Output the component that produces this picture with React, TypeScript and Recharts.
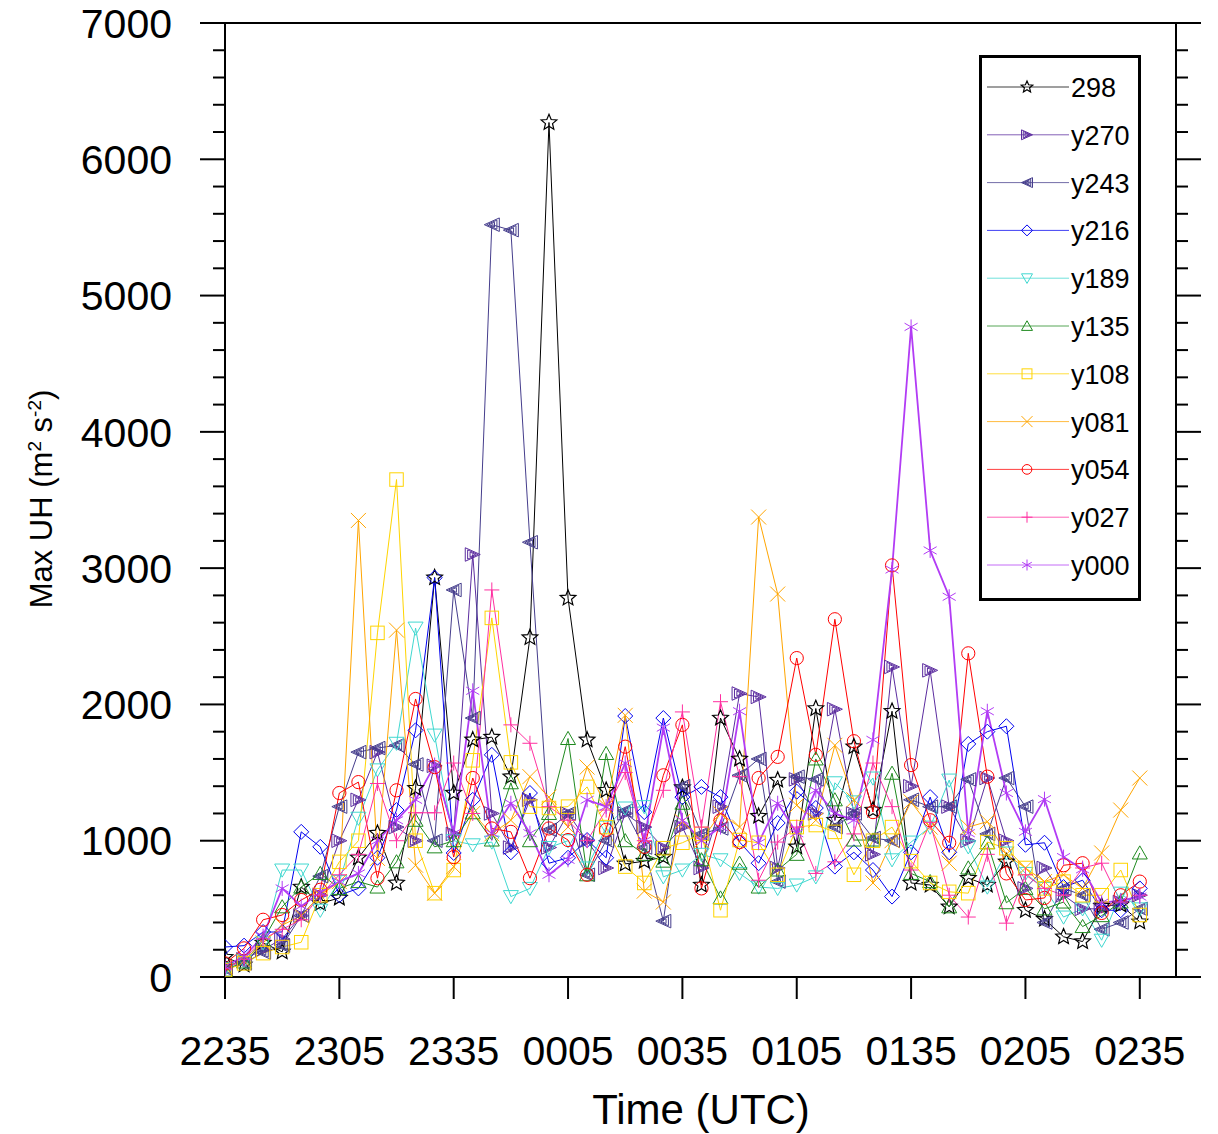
import React from "react";
import { LineChart, Line, XAxis, YAxis, ReferenceArea, Legend } from "recharts";

// 5-minute output steps from 2235 to 0235 UTC
const steps = Array.from({ length: 49 }, (_, i) => i);
const timeTicks = [0, 6, 12, 18, 24, 30, 36, 42, 48];
const timeLabels = ["2235", "2305", "2335", "0005", "0035", "0105", "0135", "0205", "0235"];
const yMajor = [0, 1000, 2000, 3000, 4000, 5000, 6000, 7000];
const yMinorStep = 200;

const s298 = [145, 90, 250, 185, 660, 540, 580, 875, 1055, 690, 1385, 2930, 1350, 1740, 1760, 1470, 2490, 6270, 2780, 1740, 1370, 830, 850, 880, 1390, 675, 1900, 1600, 1180, 1445, 955, 1970, 1150, 1690, 1225, 1950, 690, 675, 515, 725, 675, 845, 490, 425, 295, 260, 520, 530, 405];
const y270 = [70, 130, 200, 280, 450, 600, 1000, 1300, 1650, 1100, 1000, 1550, 1050, 3100, 1200, 950, 1300, 950, 1200, 1000, 800, 1200, 1100, 950, 1100, 800, 1250, 2080, 2055, 800, 1450, 1200, 1965, 1200, 900, 2275, 1400, 2250, 1250, 1000, 1460, 1000, 650, 800, 600, 500, 500, 550, 600];
const y243 = [60, 100, 180, 230, 450, 740, 1250, 1650, 1680, 1700, 1560, 1000, 2840, 1900, 5520, 5480, 3190, 1080, 1200, 750, 1000, 1220, 950, 410, 1400, 1050, 1090, 1480, 1600, 700, 1470, 1450, 1100, 1200, 1020, 1000, 1300, 1250, 1250, 1450, 1050, 1460, 1250, 400, 650, 600, 350, 400, 500];
const y216 = [220, 230, 330, 330, 1065, 955, 600, 650, 875, 1225, 1810, 2930, 910, 1300, 1630, 915, 1350, 835, 875, 1005, 875, 1915, 1210, 1900, 1320, 1395, 1320, 990, 835, 1130, 1360, 1240, 810, 915, 785, 590, 915, 1320, 915, 1710, 1800, 1840, 970, 985, 660, 710, 490, 490, 650];
const y189 = [60, 120, 250, 785, 785, 490, 700, 1165, 1520, 1715, 2560, 1775, 1000, 970, 990, 590, 650, 950, 1000, 800, 1100, 1240, 1250, 735, 785, 900, 860, 760, 660, 650, 675, 735, 1425, 1285, 1460, 860, 990, 1100, 1445, 955, 660, 910, 760, 650, 440, 500, 270, 615, 500];
const y135 = [50, 110, 270, 515, 660, 760, 650, 700, 660, 845, 1150, 955, 1000, 1205, 1005, 1425, 1000, 1200, 1750, 750, 1640, 1000, 900, 850, 1275, 860, 580, 835, 660, 785, 900, 1600, 1300, 1005, 1005, 1495, 760, 700, 515, 800, 985, 545, 650, 500, 550, 370, 450, 550, 910];
const y108 = [50, 100, 175, 220, 255, 600, 845, 1000, 2525, 3650, 1000, 615, 785, 1590, 2635, 1575, 1250, 1240, 1250, 1395, 1100, 810, 690, 945, 985, 1050, 490, 1005, 985, 750, 1100, 1115, 1065, 750, 1000, 1100, 850, 690, 625, 615, 990, 945, 800, 650, 700, 600, 600, 785, 455];
const y081 = [70, 120, 250, 380, 450, 600, 700, 3350, 870, 2545, 820, 615, 810, 1200, 1050, 1150, 1470, 1320, 1100, 1540, 1250, 1920, 630, 550, 1140, 1000, 1200, 1100, 3375, 2810, 1260, 1150, 1700, 1300, 690, 1000, 1285, 1100, 835, 1100, 1140, 900, 800, 700, 750, 650, 910, 1225, 1460];
const y054 = [100, 210, 420, 455, 565, 640, 1350, 1430, 725, 1370, 2040, 1540, 880, 1460, 1090, 1065, 725, 1090, 1005, 750, 1080, 1690, 955, 1480, 1850, 650, 1150, 990, 1460, 1615, 2340, 1630, 2625, 1730, 1210, 3020, 1555, 1150, 985, 2375, 1470, 760, 565, 580, 820, 835, 470, 600, 700];
const y027 = [60, 130, 280, 350, 420, 600, 750, 900, 1420, 1000, 1205, 1205, 1570, 1200, 2840, 1850, 1715, 1250, 1150, 1000, 1225, 1500, 1000, 1370, 1945, 1100, 2020, 1470, 710, 990, 1100, 760, 845, 1050, 1570, 1250, 785, 1135, 600, 440, 900, 395, 750, 650, 600, 800, 835, 550, 600];
const y000 = [80, 150, 300, 650, 520, 620, 700, 760, 1000, 1150, 1300, 1555, 1055, 2100, 1055, 1275, 1055, 750, 860, 1300, 1250, 1570, 1000, 1830, 1150, 1000, 1100, 1950, 985, 1275, 1055, 1370, 1200, 1150, 1740, 2990, 4770, 3130, 2790, 1055, 1950, 1350, 1065, 1305, 880, 790, 545, 560, 590];

const series = [
  { key: "s298", name: "298", values: s298, color: "#000000", shape: "star", width: 1 },
  { key: "y270", name: "y270", values: y270, color: "#5b2c9f", shape: "triR", width: 1 },
  { key: "y243", name: "y243", values: y243, color: "#453d8c", shape: "triL", width: 1 },
  { key: "y216", name: "y216", values: y216, color: "#0000f0", shape: "diamond", width: 1 },
  { key: "y189", name: "y189", values: y189, color: "#40d8d0", shape: "triDown", width: 1 },
  { key: "y135", name: "y135", values: y135, color: "#1f8a1f", shape: "triUp", width: 1 },
  { key: "y108", name: "y108", values: y108, color: "#ffd400", shape: "square", width: 1 },
  { key: "y081", name: "y081", values: y081, color: "#ffa500", shape: "x", width: 1 },
  { key: "y054", name: "y054", values: y054, color: "#ff0000", shape: "circle", width: 1 },
  { key: "y027", name: "y027", values: y027, color: "#ff2fa0", shape: "plus", width: 1 },
  { key: "y000", name: "y000", values: y000, color: "#b23cf5", shape: "asterisk", width: 1.8 },
];

const data = steps.map((i) => {
  const row: Record<string, number> = { i };
  series.forEach((s) => (row[s.key] = s.values[i]));
  return row;
});

const FONT = "'Liberation Sans', Arial, Helvetica, sans-serif";
const PLOT_L = 225, PLOT_R = 1176, PLOT_B = 977;

function pts(list: number[][]) {
  return list.map((p) => p.join(",")).join(" ");
}

function Marker({ shape, color, cx, cy, s = 7.5 }: { shape: string; color: string; cx: number; cy: number; s?: number }) {
  const common = { fill: "none", stroke: color, strokeWidth: 1 };
  switch (shape) {
    case "star": {
      const p: number[][] = [];
      const R = s * 1.1;
      for (let k = 0; k < 10; k++) {
        const r = k % 2 === 0 ? R : R * 0.45;
        const a = -Math.PI / 2 + (k * Math.PI) / 5;
        p.push([cx + r * Math.cos(a), cy + r * Math.sin(a)]);
      }
      return <polygon points={pts(p)} {...common} strokeWidth={1.2} />;
    }
    case "triR":
    case "triL": {
      const d = shape === "triR" ? 1 : -1;
      return (
        <g>
          {[1, 0.68, 0.36].map((f) => (
            <polygon
              key={f}
              points={pts([
                [cx - d * s * f, cy - s * 0.9 * f],
                [cx + d * s * f, cy],
                [cx - d * s * f, cy + s * 0.9 * f],
              ])}
              {...common}
            />
          ))}
        </g>
      );
    }
    case "diamond":
      return <polygon points={pts([[cx, cy - s], [cx + s, cy], [cx, cy + s], [cx - s, cy]])} {...common} />;
    case "triDown":
      return <polygon points={pts([[cx - s, cy - s * 0.8], [cx + s, cy - s * 0.8], [cx, cy + s * 0.95]])} {...common} />;
    case "triUp":
      return <polygon points={pts([[cx - s, cy + s * 0.8], [cx + s, cy + s * 0.8], [cx, cy - s * 0.95]])} {...common} />;
    case "square":
      return <rect x={cx - s * 0.9} y={cy - s * 0.9} width={s * 1.8} height={s * 1.8} {...common} />;
    case "circle":
      return <circle cx={cx} cy={cy} r={s * 0.88} {...common} />;
    case "x":
      return (
        <g {...common}>
          <line x1={cx - s} y1={cy - s} x2={cx + s} y2={cy + s} />
          <line x1={cx - s} y1={cy + s} x2={cx + s} y2={cy - s} />
        </g>
      );
    case "plus":
      return (
        <g {...common}>
          <line x1={cx - s} y1={cy} x2={cx + s} y2={cy} />
          <line x1={cx} y1={cy - s} x2={cx} y2={cy + s} />
        </g>
      );
    case "asterisk":
      return (
        <g {...common}>
          <line x1={cx} y1={cy - s} x2={cx} y2={cy + s} />
          <line x1={cx - s * 0.87} y1={cy - s * 0.5} x2={cx + s * 0.87} y2={cy + s * 0.5} />
          <line x1={cx - s * 0.87} y1={cy + s * 0.5} x2={cx + s * 0.87} y2={cy - s * 0.5} />
        </g>
      );
    default:
      return null;
  }
}

function makeDot(shape: string, color: string) {
  return (props: any) => {
    const { cx, cy, index } = props;
    if (cx == null || cy == null) return <g key={index} />;
    return <Marker key={index} shape={shape} color={color} cx={cx} cy={cy} />;
  };
}

function YTick(props: any) {
  const { y, payload } = props;
  const major = yMajor.includes(payload.value);
  const len = major ? 25 : 12;
  return (
    <g>
      <line x1={PLOT_L - len} x2={PLOT_L} y1={y} y2={y} stroke="#000" strokeWidth={2} />
      <line x1={PLOT_R} x2={PLOT_R + len} y1={y} y2={y} stroke="#000" strokeWidth={2} />
      {major && (
        <text x={172} y={y} dy="0.36em" textAnchor="end" fontSize={41} fontFamily={FONT} fill="#000">
          {payload.value}
        </text>
      )}
    </g>
  );
}

function XTick(props: any) {
  const { x, payload } = props;
  const label = timeLabels[timeTicks.indexOf(payload.value)];
  return (
    <g>
      <line x1={x} x2={x} y1={PLOT_B} y2={PLOT_B + 22} stroke="#000" strokeWidth={2} />
      <text x={x} y={1065} textAnchor="middle" fontSize={41} fontFamily={FONT} fill="#000">
        {label}
      </text>
    </g>
  );
}

function XTitle() {
  return (
    <text x={701} y={1124} textAnchor="middle" fontSize={42} fontFamily={FONT} fill="#000">
      Time (UTC)
    </text>
  );
}

function YTitle() {
  return (
    <text x={52} y={499} transform="rotate(-90 52 499)" textAnchor="middle" fontSize={31} fontFamily={FONT} fill="#000">
      Max UH (m<tspan dy={-11} fontSize={19}>2</tspan>
      <tspan dy={11}> s</tspan>
      <tspan dy={-11} fontSize={19}>-2</tspan>
      <tspan dy={11}>)</tspan>
    </text>
  );
}

function LegendBox() {
  const rowH = 47.8;
  return (
    <svg width={162} height={546} style={{ display: "block" }}>
      <rect x={1.5} y={1.5} width={159} height={543} fill="#fff" stroke="#000" strokeWidth={3} />
      {series.map((s, k) => {
        const cy = 32 + k * rowH;
        return (
          <g key={s.key}>
            <line x1={8} x2={90} y1={cy} y2={cy} stroke={s.color} strokeWidth={1} opacity={0.75} />
            <Marker shape={s.shape} color={s.color} cx={48} cy={cy} s={5.5} />
            <text x={92} y={cy + 10} fontSize={27} fontFamily={FONT} fill="#000">
              {s.name}
            </text>
          </g>
        );
      })}
    </svg>
  );
}

export default function App() {
  return (
    <div style={{ position: "fixed", left: 0, top: 0, width: 1218, height: 1134, background: "#fff" }}>
      <LineChart width={1218} height={1134} data={data} margin={{ top: 23, right: 42, bottom: 17, left: 75 }}>
        <XAxis
          dataKey="i"
          type="number"
          domain={[0, 49.9]}
          allowDataOverflow
          ticks={timeTicks}
          interval={0}
          height={140}
          axisLine={false}
          tickLine={false}
          tick={<XTick />}
          label={<XTitle />}
        />
        <YAxis
          type="number"
          domain={[0, 7000]}
          allowDataOverflow
          ticks={Array.from({ length: 7000 / yMinorStep + 1 }, (_, k) => k * yMinorStep)}
          interval={0}
          width={150}
          axisLine={false}
          tickLine={false}
          tick={<YTick />}
          label={<YTitle />}
        />
        {series.map((s) => (
          <Line
            key={s.key}
            dataKey={s.key}
            name={s.name}
            type="linear"
            stroke={s.color}
            strokeWidth={s.width}
            dot={makeDot(s.shape, s.color)}
            activeDot={false}
            isAnimationActive={false}
          />
        ))}
        <ReferenceArea x1={0} x2={49.9} y1={0} y2={7000} fill="none" stroke="#000" strokeWidth={2} ifOverflow="visible" />
        <Legend
          layout="horizontal"
          verticalAlign="middle"
          align="center"
          content={<LegendBox />}
          wrapperStyle={{ position: "absolute", left: 979, top: 55, width: 162, height: 546 }}
        />
      </LineChart>
    </div>
  );
}
